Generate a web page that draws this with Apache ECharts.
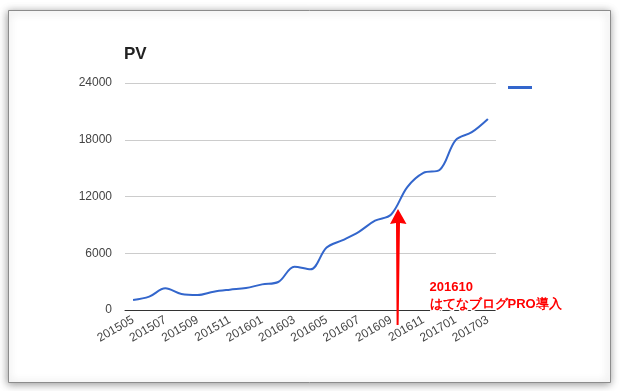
<!DOCTYPE html>
<html><head><meta charset="utf-8">
<script src="https://cdn.jsdelivr.net/npm/echarts@6/dist/echarts.min.js"></script>
<style>html,body{margin:0;padding:0;background:#fff}#c{width:620px;height:391px}</style>
</head><body><div id="c"></div>
<script>
const months = ['201505','201506','201507','201508','201509','201510','201511','201512','201601','201602','201603','201604','201605','201606','201607','201608','201609','201610','201611','201612','201701','201702','201703'];
const pv = [1060,1410,2290,1690,1580,1940,2150,2320,2710,2960,4580,4300,6600,7390,8270,9440,10100,13000,14500,14800,17960,18800,20200];
const yTicks = [0, 6000, 12000, 18000, 24000];
const noteLines = ['201610', 'はてなブログPRO導入'];

const chart = echarts.init(document.getElementById('c'), null, {renderer: 'canvas'});
const font = '"Liberation Sans", Arial, sans-serif';
chart.setOption({
  animation: false,
  backgroundColor: '#fff',
  textStyle: {fontFamily: font},
  title: {text: 'PV', left: 124, top: 46, padding: 0,
    textStyle: {fontFamily: font, fontSize: 17, fontWeight: 'bold', color: '#222'}},
  legend: {left: 508, top: 86, padding: 0, itemWidth: 24, itemHeight: 3, icon: 'rect',
    formatter: () => '', data: ['PV']},
  grid: {left: 125, right: 124, top: 83, bottom: 81, containLabel: false},
  xAxis: {type: 'category', data: months, boundaryGap: true,
    axisLine: {show: true, lineStyle: {color: '#333', width: 1}},
    axisTick: {show: false},
    axisLabel: {interval: 1, rotate: 30, margin: 9, fontSize: 12, color: '#444', fontFamily: font}},
  yAxis: {type: 'value', min: yTicks[0], max: yTicks[yTicks.length - 1], interval: yTicks[1] - yTicks[0],
    axisLine: {show: false}, axisTick: {show: false},
    splitLine: {lineStyle: {color: '#ccc', width: 1}},
    axisLabel: {margin: 13, fontSize: 12, color: '#444', fontFamily: font, formatter: v => String(v)}},
  series: [{name: 'PV', type: 'line', data: pv, smooth: 0.35, showSymbol: false,
    itemStyle: {color: '#3366cc'},
    lineStyle: {color: '#3366cc', width: 2}}],
  graphic: [
    {type: 'rect', z: -10, silent: true,
      shape: {x: 8.5, y: 10.5, width: 602, height: 372},
      style: {fill: '#fff', stroke: '#8c8c8c', lineWidth: 1,
        shadowBlur: 8, shadowColor: 'rgba(0,0,0,0.4)', shadowOffsetX: -1, shadowOffsetY: 1}},
    {type: 'polygon', z: 100, silent: true,
      shape: {points: [[396.6,325],[398.6,325],[400,223],[406.5,224],[398,209],[390,224],[396,223]]},
      style: {fill: '#ff0000'}},
    {type: 'text', z: 100, left: 428, top: 279, silent: true,
      style: {text: noteLines.join('\n'), fill: '#ff0000', font: 'bold 13px ' + font, lineHeight: 17,
        stroke: '#fff', lineWidth: 3, shadowColor: 'rgba(0,0,0,0.5)', shadowBlur: 2, shadowOffsetX: 1, shadowOffsetY: 1}}
  ]
});
</script></body></html>
